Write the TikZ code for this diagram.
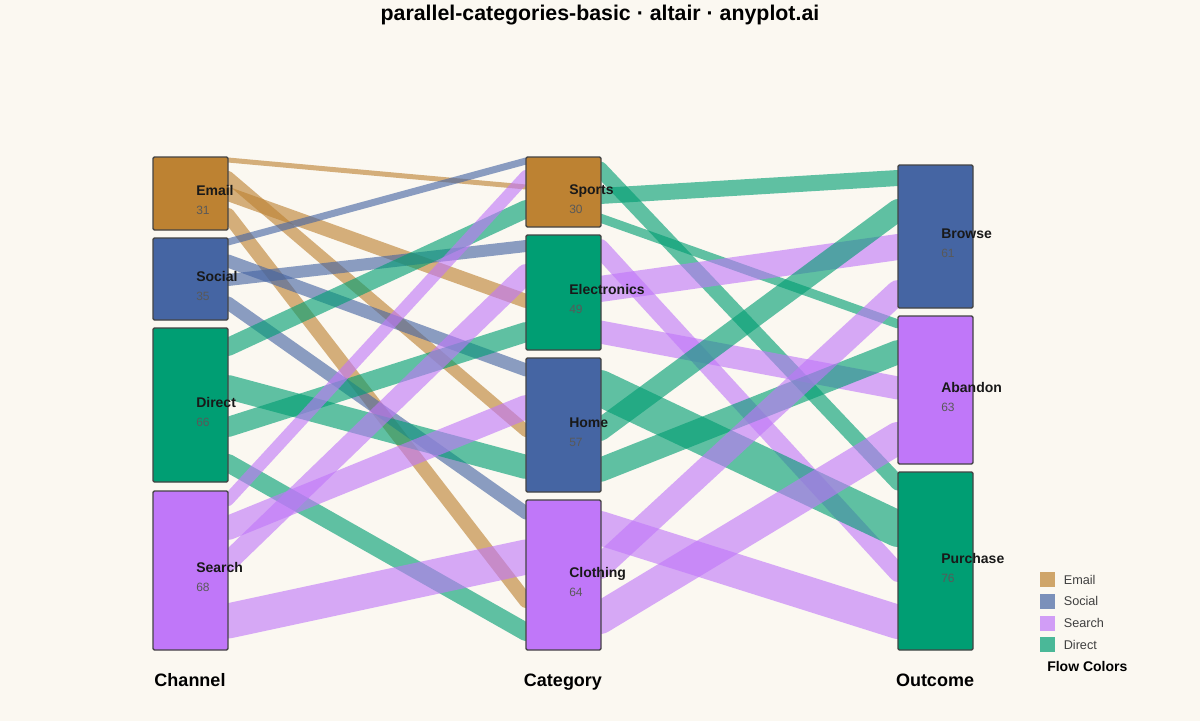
\documentclass[tikz,border=0pt]{standalone}
\usepackage{fontspec}
\setmainfont{Liberation Sans}
\usetikzlibrary{positioning}
\definecolor{bgc}{HTML}{FBF8F1}
\definecolor{cEmail}{HTML}{BD8232}
\definecolor{cSocial}{HTML}{4565A3}
\definecolor{cDirect}{HTML}{009E73}
\definecolor{cSearch}{HTML}{C077F9}
\definecolor{edgec}{HTML}{444444}
\tikzset{
  ribbon/.style n args={2}{draw=#1, draw opacity=0.62, line width=#2*0.75pt, line cap=round},
  bar/.style={draw=edgec, line width=1pt, rounded corners=1pt},
  catlabel/.style={font=\bfseries\fontsize{10.5}{12}\selectfont, text=black!90, anchor=base west, inner sep=0pt},
  catcount/.style={font=\fontsize{9}{11}\selectfont, text=black!65, anchor=base west, inner sep=0pt},
  axislabel/.style={font=\bfseries\fontsize{13.5}{16}\selectfont, anchor=base, inner sep=0pt},
  swatch/.style={fill=#1, fill opacity=0.7, minimum size=11.25pt, inner sep=0pt, anchor=north west},
  legtext/.style={font=\fontsize{9.5}{11}\selectfont, text=black!75, anchor=west, inner sep=0pt},
}
\begin{document}
\begin{tikzpicture}[x=0.75pt, y=-0.75pt]
  \fill[bgc] (0,0) rectangle (1200,721);
  \useasboundingbox (0,0) rectangle (1200,721);
  \node[font=\bfseries\fontsize{16}{19}\selectfont, anchor=base] (title) at (600,21) {parallel-categories-basic · altair · anyplot.ai};

  % channel -> category
  \foreach \ya/\yb/\w/\c in {160/187/5/cEmail, 194/301/14/cEmail, 177/431/12/cEmail, 215/601/14/cEmail,
      242/161/7/cSocial, 280/246/12/cSocial, 261/370/13/cSocial, 303/513/13/cSocial,
      347/209/18/cDirect, 427/332/20/cDirect, 387/467/24/cDirect, 463/632/18/cDirect,
      500/176/12/cSearch, 562/274/20/cSearch, 528/407/24/cSearch, 621/557/35/cSearch}
    \draw[ribbon={\c}{\w}] (228,\ya) -- (526,\yb);

  % category -> outcome
  \foreach \ya/\yb/\w/\c in {196/178/16/cDirect, 218/324/9/cDirect, 169/483/15/cDirect,
      289/247/26/cSearch, 332/388/23/cSearch, 248/573/18/cSearch,
      430/210/22/cDirect, 470/352/24/cDirect, 388/529/36/cDirect,
      567/292/24/cSearch, 618/438/32/cSearch, 528/622/34/cSearch}
    \draw[ribbon={\c}{\w}] (600,\ya) -- (898,\yb);

  % bars
  \foreach \id/\x/\ya/\yb/\c/\lab/\n in {email/153/157/230/cEmail/Email/31, social/153/238/320/cSocial/Social/35,
      direct/153/328/482/cDirect/Direct/66, search/153/491/650/cSearch/Search/68,
      sports/526/157/227/cEmail/Sports/30, electronics/526/235/350/cDirect/Electronics/49,
      home/526/358/492/cSocial/Home/57, clothing/526/500/650/cSearch/Clothing/64,
      browse/898/165/308/cSocial/Browse/61, abandon/898/316/464/cSearch/Abandon/63,
      purchase/898/472/650/cDirect/Purchase/76}
  {
    \draw[bar, fill=\c] (\x,\ya) rectangle ++(75,\yb-\ya);
    \node[catlabel] (\id) at ({\x+43},{(\ya+\yb)/2+2}) {\lab};
    \node[catcount] (\id-n) at ({\x+43},{(\ya+\yb)/2+21}) {\n};
  }

  \node[axislabel] (channel) at (190,686) {Channel};
  \node[axislabel] (category) at (563,686) {Category};
  \node[axislabel] (outcome) at (935,686) {Outcome};

  % legend
  \foreach \lab/\c [count=\i] in {Email/cEmail, Social/cSocial, Search/cSearch, Direct/cDirect} {
    \node[swatch=\c] (sw\i) at (1040,{572+(\i-1)*21.7}) {};
    \node[legtext, right=6pt of sw\i] (lg\i) {\lab};
  }
  \node[font=\bfseries\fontsize{10.5}{12}\selectfont, anchor=base west, inner sep=0pt] (legtitle) at (1047,671) {Flow Colors};
\end{tikzpicture}
\end{document}
